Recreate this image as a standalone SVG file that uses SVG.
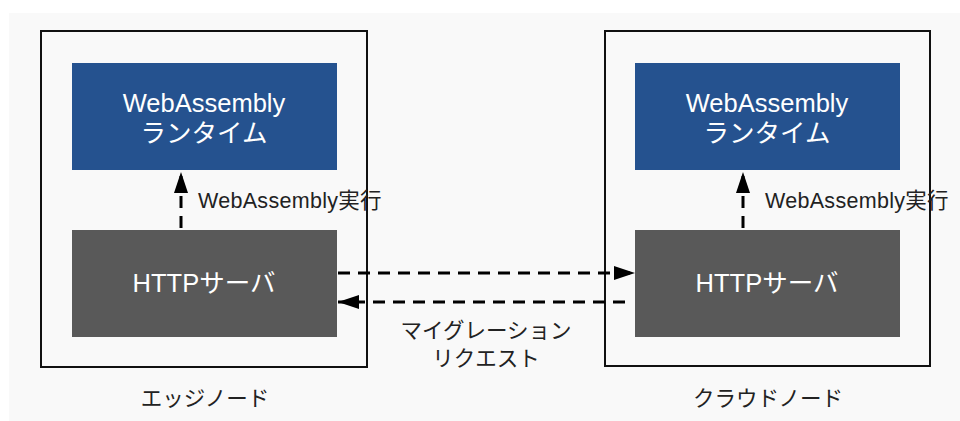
<svg xmlns="http://www.w3.org/2000/svg" width="960" height="421" viewBox="0 0 960 421">
<defs>
<marker id="ahv" viewBox="0 0 10 10" refX="10" refY="5" markerWidth="21" markerHeight="14" markerUnits="userSpaceOnUse" orient="auto" preserveAspectRatio="none">
<path d="M0,0 L10,5 L0,10 z" fill="#000"/>
</marker>
<style>
text{font-family:"Liberation Sans","Noto Sans CJK JP",sans-serif;}
.frame{fill:#f9f9f9;stroke:#111;stroke-width:2;}
.blue{fill:#25528f;}
.gray{fill:#595959;}
.wt{fill:#fff;font-size:25.5px;text-anchor:middle;}
.lbl{fill:#222;font-size:21.5px;letter-spacing:0.3px;}
.cap{fill:#222;font-size:21.5px;text-anchor:middle;}
.dash{stroke:#000;stroke-width:3;stroke-dasharray:12 8;fill:none;}
</style>
</defs>
<rect x="9" y="13" width="951" height="408" fill="#f9f9f9"/>
<g id="edge-node">
<rect class="frame" x="41" y="31" width="326" height="336"/>
<text class="cap" x="205" y="406">エッジノード</text>
</g>
<g id="cloud-node">
<rect class="frame" x="605" y="31" width="325" height="335"/>
<text class="cap" x="768" y="406">クラウドノード</text>
</g>
<g id="edge-runtime">
<rect class="blue" x="72" y="63" width="265" height="107"/>
<text class="wt" x="204" y="112">WebAssembly</text>
<text class="wt" x="204" y="142">ランタイム</text>
</g>
<g id="edge-http">
<rect class="gray" x="72" y="230" width="265" height="107"/>
<text class="wt" x="204" y="292">HTTPサーバ</text>
</g>
<g id="cloud-runtime">
<rect class="blue" x="635" y="63" width="265" height="107"/>
<text class="wt" x="767" y="112">WebAssembly</text>
<text class="wt" x="767" y="142">ランタイム</text>
</g>
<g id="cloud-http">
<rect class="gray" x="635" y="230" width="265" height="107"/>
<text class="wt" x="767" y="292">HTTPサーバ</text>
</g>
<g id="connectors">
<line class="dash" x1="181" y1="228" x2="181" y2="172" marker-end="url(#ahv)"/>
<line class="dash" x1="743" y1="228" x2="743" y2="172" marker-end="url(#ahv)"/>
<line class="dash" x1="338" y1="273" x2="635" y2="273" marker-end="url(#ahv)"/>
<line class="dash" x1="625" y1="302" x2="338" y2="302" marker-end="url(#ahv)"/>
<text class="lbl" x="198" y="208">WebAssembly実行</text>
<text class="lbl" x="765" y="208">WebAssembly実行</text>
<text class="cap" x="486" y="338">マイグレーション</text>
<text class="cap" x="486" y="366">リクエスト</text>
</g>
</svg>
